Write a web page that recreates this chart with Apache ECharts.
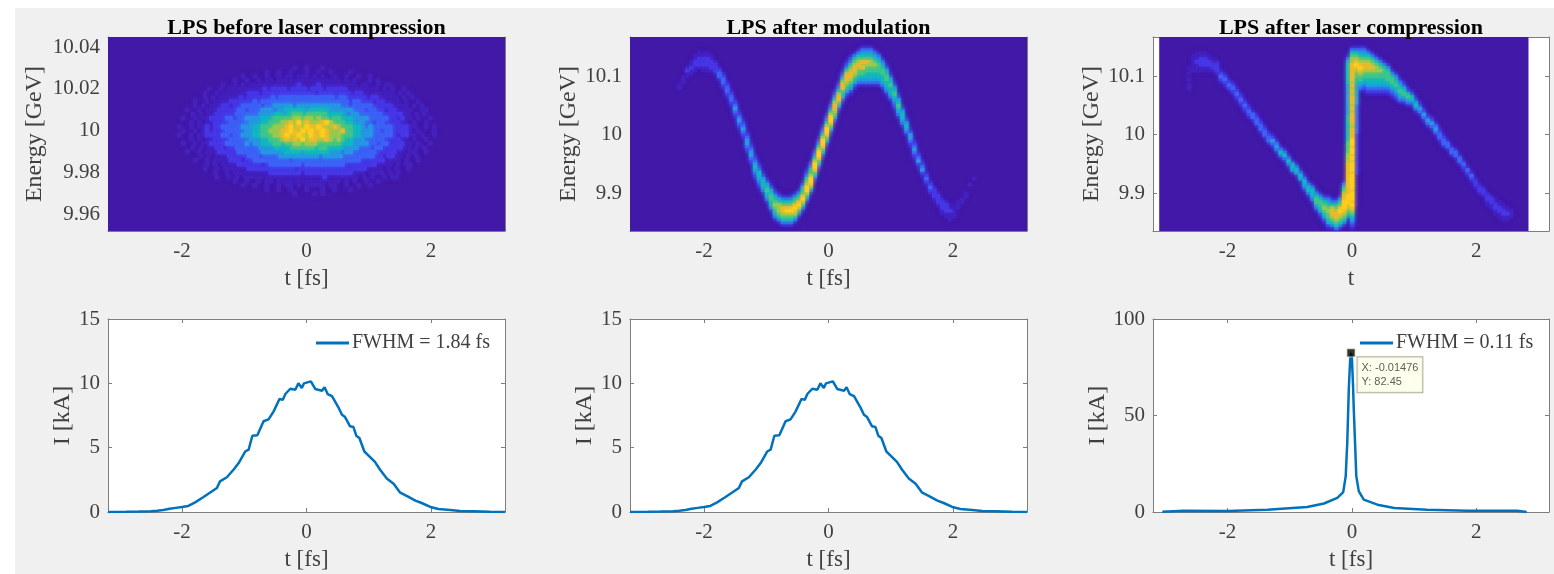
<!DOCTYPE html>
<html>
<head>
<meta charset="utf-8">
<title>LPS</title>
<script src="https://cdn.jsdelivr.net/npm/echarts@6/dist/echarts.min.js"></script>
<style>
html, body { margin: 0; padding: 0; background: #fff; }
#figure { position: absolute; left: 15px; top: 8px; width: 1539px; height: 566px; background: #f0f0f0; }
#main { position: absolute; left: 0; top: 0; width: 1554px; height: 574px; }
</style>
</head>
<body>
<div id="figure"></div>
<div id="main"></div>
<script>
// tick labels
var tTicks = [-2, 0, 2];
var energyTicksBefore = [9.96, 9.98, 10, 10.02, 10.04];
var energyTicks = [9.9, 10, 10.1];
var currentTicks = [0, 5, 10, 15];
var currentTicksPeak = [0, 50, 100];

// parula steps, level 0 is the plot background
var levelColors = ['#4218a8', '#4622bc', '#4838e6', '#3f62f6', '#2a96e4', '#12b6c4', '#3cc68e', '#94cb52', '#e6bb30', '#fcce1e'];

// LPS before compression: rows from 10.03 GeV down in 0.002 GeV steps, columns centred on t=0 in 0.064 fs steps
var beforeRows = [
    '010010001',
    '01001001000100100100001',
    '100100100101101110101001001001001',
    '1001001011011111111111111110101000101',
    '1001010111111111111211112111111111011001011',
    '10010111111111212222122221222122222111111110101001',
    '1001011111122212222222222222122222222122111111110101',
    '010101111121222222323333333333333323322222122111110101',
    '100101111222222323333333333333333333333233222122111101001',
    '01010111221223333323344444344444444444332333332222211110101',
    '1001011122222332333444344555554555554444443332332212211110011',
    '010101122222333333444455456665666665555434433333322222110101',
    '100101122223323344445556666677677676656655544443333322121101001',
    '0101011222233333444556667787978777897666554443323322221101001',
    '10010112122333334445566677789787988987787666554343333322221100101',
    '01001012122233333445566777889879898898777866554443323322221010001',
    '10010112222332334445566677898898798898777666554443333321221101001',
    '0101011222233333444556667878797887787676554443333322221101001',
    '100101122223333343445556656677677766666655544443323322221101001',
    '010101122122333333444455556666665665555444433323322222110101',
    '1001011122222333333444444555545555554443443333332222211011001',
    '01010111222223332333344444444443444443333333322122110101',
    '100101111222122333333333233333333333333333222222111101001',
    '01010111122222212333333332333333333322222222111101011',
    '1001011111122222222222212222222222222222211110101001',
    '10010111111111222222221222222222222111011110101',
    '1001010111111111111111111112111111110101001011',
    '1001001011011111111111111110101001001',
    '100100100101101011111011001001001',
    '01001001000100010010001',
    '010000101'
];

// LPS after modulation: [t, top energy, levels going down in 0.005 GeV steps]
var modColumns = [
    [-2.400, 10.085, '11'], [-2.336, 10.100, '111'], [-2.272, 10.115, '1211'], [-2.208, 10.125, '11211'],
    [-2.144, 10.135, '112211'], [-2.080, 10.140, '112221'], [-2.016, 10.140, '1122211'], [-1.952, 10.140, '1122211'],
    [-1.888, 10.135, '112221'], [-1.824, 10.125, '12221'], [-1.760, 10.115, '12331'], [-1.696, 10.105, '123321'],
    [-1.632, 10.090, '123321'], [-1.568, 10.075, '123321'], [-1.504, 10.060, '1234321'], [-1.440, 10.040, '1234321'],
    [-1.376, 10.025, '1234321'], [-1.312, 10.005, '12344321'], [-1.248, 9.985, '12344321'], [-1.184, 9.965, '123454321'],
    [-1.120, 9.950, '123554321'], [-1.056, 9.935, '12455431'], [-0.992, 9.925, '124565431'], [-0.928, 9.915, '1245665431'],
    [-0.864, 9.905, '12456765431'], [-0.800, 9.900, '12457776531'], [-0.736, 9.895, '13568876531'], [-0.672, 9.895, '13568976531'],
    [-0.608, 9.895, '13568976531'], [-0.544, 9.900, '13568987531'], [-0.480, 9.905, '1356897531'], [-0.416, 9.920, '12456897531'],
    [-0.352, 9.940, '123567997531'], [-0.288, 9.955, '123567998631'], [-0.224, 9.975, '123579986421'], [-0.160, 9.995, '123579986421'],
    [-0.096, 10.015, '123579986421'], [-0.032, 10.035, '123579986421'], [0.032, 10.055, '123579986421'], [0.096, 10.075, '123578876421'],
    [0.160, 10.090, '12357886421'], [0.224, 10.110, '123578865421'], [0.288, 10.125, '1235788765421'], [0.352, 10.135, '12356788765421'],
    [0.416, 10.140, '1356788765421'], [0.480, 10.145, '1356787665431'], [0.544, 10.150, '13456878665431'], [0.608, 10.150, '13456876655431'],
    [0.672, 10.150, '13456776655431'], [0.736, 10.145, '1345676655431'], [0.800, 10.140, '134566655431'], [0.864, 10.130, '13456655431'],
    [0.928, 10.120, '12456655431'], [0.992, 10.105, '1245655431'], [1.056, 10.090, '1245654321'], [1.120, 10.070, '124565431'],
    [1.184, 10.050, '12455431'], [1.248, 10.030, '1245431'], [1.312, 10.010, '1244321'], [1.376, 9.990, '1234321'],
    [1.440, 9.970, '123421'], [1.504, 9.955, '123421'], [1.568, 9.935, '12321'], [1.632, 9.920, '12321'],
    [1.696, 9.910, '12221'], [1.760, 9.900, '12221'], [1.824, 9.890, '122211'], [1.888, 9.885, '122211'],
    [1.952, 9.880, '112111'], [2.016, 9.880, '11111'], [2.080, 9.885, '111'], [2.144, 9.890, '11'],
    [2.208, 9.900, '11'], [2.272, 9.915, '1'], [2.336, 9.925, '1']
];

// LPS after laser compression, same layout
var compColumns = [
    [-2.624, 10.115, '10101011'], [-2.560, 10.135, '111111'], [-2.496, 10.140, '1112111'], [-2.432, 10.140, '1122211'],
    [-2.368, 10.140, '1122211'], [-2.304, 10.135, '112211'], [-2.240, 10.130, '11221'], [-2.176, 10.125, '12221'],
    [-2.112, 10.110, '12321'], [-2.048, 10.105, '12321'], [-1.984, 10.095, '1232'], [-1.920, 10.090, '12321'],
    [-1.856, 10.080, '12321'], [-1.792, 10.070, '12321'], [-1.728, 10.060, '12321'], [-1.664, 10.050, '12321'],
    [-1.600, 10.040, '1331'], [-1.536, 10.035, '12331'], [-1.472, 10.025, '12331'], [-1.408, 10.015, '12331'],
    [-1.344, 10.005, '12331'], [-1.280, 10.000, '12431'], [-1.216, 9.990, '13431'], [-1.152, 9.980, '13531'],
    [-1.088, 9.975, '13531'], [-1.024, 9.965, '13531'], [-0.960, 9.955, '14541'], [-0.896, 9.950, '13541'],
    [-0.832, 9.940, '13541'], [-0.768, 9.930, '135431'], [-0.704, 9.920, '135531'], [-0.640, 9.915, '1355431'],
    [-0.576, 9.905, '13566431'], [-0.512, 9.900, '135665421'], [-0.448, 9.895, '1356765421'], [-0.384, 9.895, '134567665421'],
    [-0.320, 9.890, '13578876531'], [-0.256, 9.890, '135678876531'], [-0.192, 9.895, '135689876531'], [-0.128, 9.920, '1356788999876531'],
    [-0.064, 10.135, '13455555554444444444455555555566667778888888888899987653'],
    [0.000, 10.150, '135677888888787878887878888788889989989899989999989998987654321'],
    [0.064, 10.150, '1356789876655444444433333333332222222222222211111111111'],
    [0.128, 10.150, '1345678987665431'], [0.192, 10.150, '1345678876654321'], [0.256, 10.145, '1356788766554321'],
    [0.320, 10.140, '135678766554321'], [0.384, 10.135, '13567766554321'], [0.448, 10.130, '1356766554321'], [0.512, 10.125, '135666554321'],
    [0.576, 10.120, '13566654321'], [0.640, 10.110, '1356654321'], [0.704, 10.105, '1345654321'], [0.768, 10.095, '134565431'],
    [0.832, 10.090, '12456431'], [0.896, 10.080, '1256431'], [0.960, 10.075, '125531'], [1.024, 10.065, '124531'],
    [1.088, 10.055, '12431'], [1.152, 10.045, '12431'], [1.216, 10.035, '12431'], [1.280, 10.030, '12431'],
    [1.344, 10.020, '13431'], [1.408, 10.010, '12331'], [1.472, 10.000, '12331'], [1.536, 9.990, '1331'],
    [1.600, 9.980, '1331'], [1.664, 9.975, '1331'], [1.728, 9.965, '1331'], [1.792, 9.955, '1321'],
    [1.856, 9.945, '1321'], [1.920, 9.935, '1321'], [1.984, 9.925, '1221'], [2.048, 9.915, '1221'],
    [2.112, 9.910, '1221'], [2.176, 9.900, '12211'], [2.240, 9.895, '12211'], [2.304, 9.890, '112211'],
    [2.368, 9.885, '112211'], [2.432, 9.880, '112211'], [2.496, 9.875, '11211'], [2.560, 9.870, '111']
];

// current profiles [t, kA]
var currentProfile = [
    [-3.19, 0], [-2.9, 0.01], [-2.7, 0.03], [-2.5, 0.06], [-2.4, 0.1], [-2.3, 0.16], [-2.2, 0.25], [-2.1, 0.32], [-2.0, 0.39],
    [-1.9, 0.47], [-1.79, 0.75], [-1.655, 1.17], [-1.44, 1.87], [-1.39, 2.38], [-1.28, 2.7], [-1.17, 3.3], [-1.09, 3.8],
    [-0.986, 4.7], [-0.93, 4.85], [-0.87, 5.93], [-0.79, 5.96], [-0.69, 7.05], [-0.61, 7.2], [-0.53, 7.8], [-0.434, 8.78],
    [-0.38, 8.73], [-0.34, 9.17], [-0.26, 9.58], [-0.18, 9.5], [-0.13, 10.0], [-0.075, 9.64], [-0.04, 10.0], [0.07, 10.15],
    [0.14, 9.56], [0.25, 9.43], [0.29, 9.7], [0.34, 9.17], [0.41, 9.0], [0.51, 8.16], [0.57, 7.56], [0.62, 7.38], [0.7, 6.66],
    [0.755, 6.6], [0.8, 5.93], [0.85, 5.75], [0.93, 4.7], [1.01, 4.33], [1.1, 3.9], [1.18, 3.3], [1.29, 2.6], [1.4, 2.2],
    [1.5, 1.53], [1.64, 1.17], [1.75, 0.88], [1.85, 0.7], [1.99, 0.39], [2.12, 0.23], [2.31, 0.16], [2.47, 0.08], [2.68, 0.05],
    [2.95, 0.01], [3.19, 0]
];
var currentPeak = [
    [-3.05, 0.1], [-2.7, 0.6], [-2, 0.5], [-1.36, 1.2], [-0.72, 2.6], [-0.45, 4.4], [-0.235, 7.3], [-0.14, 10.3], [-0.1, 18.6],
    [-0.075, 36], [-0.05, 64], [-0.03, 78], [-0.01476, 82.45], [0, 79.6], [0.016, 67], [0.03, 53], [0.05, 36], [0.07, 18.6],
    [0.11, 10.8], [0.19, 6.4], [0.41, 3.8], [0.68, 2.1], [1.21, 1.2], [1.85, 0.7], [2.66, 0.7], [2.81, 0]
];
var dataTip = [[-0.01476, 82.45]];

var TEXT = '#404040';
var FRAME = '#7d7d7d';
var SERIF = '"Liberation Serif", "Times New Roman", serif';

function byLevel(a, b) { return a[2] - b[2]; }

function beforeCells() {
    var cells = [];
    beforeRows.forEach(function (row, r) {
        var n = row.length;
        for (var i = 0; i < n; i++) {
            if (row[i] !== '0') cells.push([(i - (n - 1) / 2) * 0.064, 10.03 - r * 0.002, +row[i]]);
        }
    });
    return cells.sort(byLevel);
}

function columnCells(columns) {
    var cells = [];
    columns.forEach(function (col) {
        for (var k = 0; k < col[2].length; k++) {
            if (col[2][k] !== '0') cells.push([col[0], col[1] - k * 0.005, +col[2][k]]);
        }
    });
    return cells.sort(byLevel);
}

// one frame: mirrored axes so the ticks show on all four sides
var plots = [
    { left: 108, top: 37, w: 397, h: 194, t: [-3.19, 3.19], y: [9.952, 10.0448], yTicks: energyTicksBefore, title: 'LPS before laser compression', yName: 'Energy [GeV]', xName: 't [fs]', yGap: 61 },
    { left: 630, top: 37, w: 397, h: 194, t: [-3.19, 3.19], y: [9.835, 10.167], yTicks: energyTicks, title: 'LPS after modulation', yName: 'Energy [GeV]', xName: 't [fs]', yGap: 49 },
    { left: 1153, top: 37, w: 396, h: 194, t: [-3.2, 3.17], y: [9.835, 10.167], yTicks: energyTicks, title: 'LPS after laser compression', yName: 'Energy [GeV]', xName: 't', yGap: 49 },
    { left: 108, top: 319, w: 397, h: 193, t: [-3.19, 3.19], y: [0, 15], yTicks: currentTicks, yName: 'I [kA]', xName: 't [fs]', yGap: 33 },
    { left: 630, top: 319, w: 397, h: 193, t: [-3.19, 3.19], y: [0, 15], yTicks: currentTicks, yName: 'I [kA]', xName: 't [fs]', yGap: 33 },
    { left: 1153, top: 319, w: 396, h: 193, t: [-3.2, 3.17], y: [0, 100], yTicks: currentTicksPeak, yName: 'I [kA]', xName: 't [fs]', yGap: 34 }
];

var grids = [], xAxes = [], yAxes = [], titles = [], series = [], legends = [], heatIndex = [];

function axisCommon() {
    return {
        axisLine: { show: true, onZero: false, lineStyle: { color: FRAME, width: 1 } },
        axisTick: { show: true, inside: true, length: 4, lineStyle: { color: FRAME } },
        splitLine: { show: false }
    };
}

plots.forEach(function (p, i) {
    grids.push({ left: p.left, top: p.top, width: p.w, height: p.h, backgroundColor: '#fff', show: true, borderWidth: 0, outerBoundsMode: 'none' });
    var labelStyle = { fontFamily: SERIF, fontSize: 21, color: TEXT };
    var xTickStyle = axisCommon();
    xTickStyle.axisTick.customValues = tTicks;
    xAxes.push(Object.assign({
        type: 'value', gridIndex: i, min: p.t[0], max: p.t[1], position: 'bottom',
        name: p.xName, nameLocation: 'middle', nameGap: 36,
        nameTextStyle: { fontFamily: SERIF, fontSize: 23, color: TEXT },
        axisLabel: Object.assign({ customValues: tTicks, margin: 10 }, labelStyle)
    }, xTickStyle));
    var xTop = axisCommon();
    xTop.axisTick.customValues = tTicks;
    xAxes.push(Object.assign({ type: 'value', gridIndex: i, min: p.t[0], max: p.t[1], position: 'top', axisLabel: { show: false } }, xTop));
    var yTickStyle = axisCommon();
    yTickStyle.axisTick.customValues = p.yTicks;
    yAxes.push(Object.assign({
        type: 'value', gridIndex: i, min: p.y[0], max: p.y[1], position: 'left',
        name: p.yName, nameLocation: 'middle', nameGap: p.yGap, nameRotate: 90,
        nameTextStyle: { fontFamily: SERIF, fontSize: 24, color: TEXT },
        axisLabel: Object.assign({ customValues: p.yTicks, margin: 8 }, labelStyle)
    }, yTickStyle));
    var yRight = axisCommon();
    yRight.axisTick.customValues = p.yTicks;
    yAxes.push(Object.assign({ type: 'value', gridIndex: i, min: p.y[0], max: p.y[1], position: 'right', axisLabel: { show: false } }, yRight));
    if (p.title) {
        titles.push({
            text: p.title, left: p.left + p.w / 2, top: 17, padding: 0, textAlign: 'center',
            textStyle: { fontFamily: SERIF, fontSize: 22, fontWeight: 'bold', color: '#000' }
        });
    }
});

function addHeat(plotIndex, cells, dt, dE, extent) {
    series.push({
        type: 'custom', xAxisIndex: plotIndex * 2, yAxisIndex: plotIndex * 2, silent: true, clip: true, z: 1,
        data: [extent],
        renderItem: function (params, api) {
            var a = api.coord([api.value(0), api.value(3)]);
            var b = api.coord([api.value(1), api.value(2)]);
            return { type: 'rect', shape: { x: a[0], y: a[1], width: b[0] - a[0], height: b[1] - a[1] }, style: { fill: levelColors[0] } };
        }
    });
    heatIndex.push(series.length);
    series.push({
        type: 'custom', xAxisIndex: plotIndex * 2, yAxisIndex: plotIndex * 2, silent: true, clip: true, z: 2,
        data: cells,
        encode: { x: 0, y: 1 },
        renderItem: function (params, api) {
            var p = api.coord([api.value(0) - dt / 2, api.value(1) + dE / 2]);
            var s = api.size([dt, dE]);
            var color = api.visual('color');
            // soft edge, the source image is a blurred raster
            return {
                type: 'rect',
                shape: { x: p[0], y: p[1], width: s[0] + 0.5, height: s[1] + 0.5 },
                style: { fill: color, shadowBlur: 4, shadowColor: color }
            };
        }
    });
}

addHeat(0, beforeCells(), 0.064, 0.002, [-3.19, 3.19, 9.952, 10.0448]);
addHeat(1, columnCells(modColumns), 0.064, 0.005, [-3.19, 3.19, 9.835, 10.167]);
addHeat(2, columnCells(compColumns), 0.064, 0.005, [-3.1, 2.84, 9.835, 10.167]);

function addProfile(plotIndex, name, values, legendLeft) {
    series.push({
        name: name, type: 'line', xAxisIndex: plotIndex * 2, yAxisIndex: plotIndex * 2, data: values,
        showSymbol: false, symbol: 'none', lineStyle: { color: '#0072bd', width: 2.5 }, itemStyle: { color: '#0072bd' }, z: 3
    });
    if (name) {
        legends.push({
            data: [name], left: legendLeft, top: 333, itemWidth: 33, itemHeight: 3, itemGap: 3, icon: 'rect',
            itemStyle: { color: '#0072bd' }, padding: 0,
            textStyle: { fontFamily: SERIF, fontSize: 20, color: TEXT, padding: [0, 0, 0, -2] }
        });
    }
}

addProfile(3, 'FWHM = 1.84 fs', currentProfile, 316);
addProfile(4, '', currentProfile);
addProfile(5, 'FWHM = 0.11 fs', currentPeak, 1360);

series.push({
    type: 'scatter', xAxisIndex: 10, yAxisIndex: 10, data: dataTip, symbol: 'rect', symbolSize: 8, z: 5,
    itemStyle: { color: '#000', borderColor: '#cfcfa8', borderWidth: 1 },
    label: {
        show: true, position: [11, 9], align: 'left', verticalAlign: 'top',
        formatter: function (d) { return 'X: ' + d.value[0] + '\nY: ' + d.value[1]; },
        fontFamily: '"Liberation Sans", Arial, sans-serif', fontSize: 11, lineHeight: 13.5, color: '#333',
        backgroundColor: '#ffffe8', borderColor: '#9a9a88', borderWidth: 1, padding: [4, 4, 4, 4]
    }
});

var chart = echarts.init(document.getElementById('main'), null, { renderer: 'canvas' });
chart.setOption({
    animation: false,
    backgroundColor: 'transparent',
    title: titles,
    grid: grids,
    xAxis: xAxes,
    yAxis: yAxes,
    legend: legends,
    visualMap: [{ show: false, type: 'continuous', seriesIndex: heatIndex, dimension: 2, min: 0, max: 9, inRange: { color: levelColors } }],
    series: series
});
</script>
</body>
</html>
